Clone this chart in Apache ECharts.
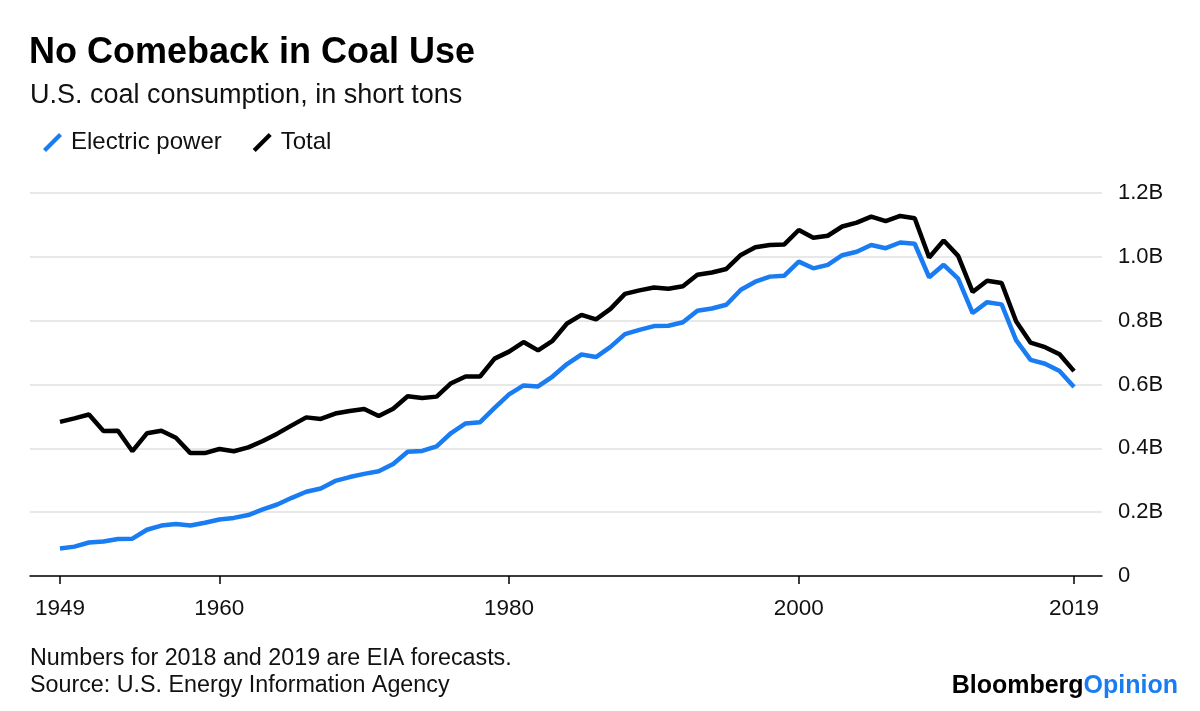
<!DOCTYPE html>
<html>
<head>
<meta charset="utf-8">
<script src="https://cdn.jsdelivr.net/npm/echarts@6/dist/echarts.min.js"></script>
<style>
  html, body { margin: 0; padding: 0; background: #fff; }
  #chart { width: 1200px; height: 711px; }
</style>
</head>
<body>
<div id="chart"></div>
<script>
const FONT = "'Liberation Sans', Arial, sans-serif";
const BLUE = "#1a7cf3";

const firstYear = 1949;
// million short tons (2018 and 2019 are forecasts)
const electricPower = [
  86, 92, 105, 108, 116, 117, 145, 158, 163, 158,
  167, 177, 182, 191, 209, 224, 245, 264, 274, 298,
  310, 320, 328, 351, 389, 392, 406, 448, 478, 482,
  527, 569, 597, 594, 625, 664, 694, 686, 718, 758,
  771, 783, 784, 795, 831, 838, 850, 897, 922, 938,
  941, 985, 964, 975, 1005, 1016, 1037, 1027, 1045, 1041,
  936, 975, 932, 824, 858, 851, 739, 677, 665, 642,
  592
];
const total = [
  483, 494, 506, 454, 455, 391, 447, 455, 433, 385,
  385, 398, 391, 403, 423, 446, 472, 497, 492, 509,
  517, 523, 501, 524, 563, 558, 562, 604, 625, 625,
  681, 703, 733, 707, 737, 791, 818, 804, 837, 884,
  895, 904, 900, 908, 944, 951, 962, 1006, 1030, 1037,
  1039, 1084, 1060, 1066, 1095, 1107, 1126, 1112, 1128, 1121,
  998, 1051, 1003, 890, 925, 918, 798, 731, 717, 695,
  642
];
const xTickYears = [1949, 1960, 1980, 2000, 2019];
const yTickLabels = ["0", "0.2B", "0.4B", "0.6B", "0.8B", "1.0B", "1.2B"];

function toPoints(values) {
  return values.map((v, i) => [firstYear + i, v / 1000]);
}

const slashIcon = "path://M0,16 L16,0 L19,3 L3,19 Z";

const chart = echarts.init(document.getElementById("chart"), null, { renderer: "canvas" });
chart.setOption({
  backgroundColor: "#ffffff",
  animation: false,
  title: [
    {
      text: "No Comeback in Coal Use",
      left: 29, top: 35, padding: 0,
      textStyle: { fontFamily: FONT, fontSize: 36, fontWeight: "bold", color: "#000" }
    },
    {
      text: "U.S. coal consumption, in short tons",
      left: 30, top: 82, padding: 0,
      textStyle: { fontFamily: FONT, fontSize: 27, fontWeight: "normal", color: "#111" }
    },
    {
      text: "Numbers for 2018 and 2019 are EIA forecasts.\nSource: U.S. Energy Information Agency",
      left: 30, top: 645, padding: 0,
      textStyle: { fontFamily: FONT, fontSize: 23.3, fontWeight: "normal", color: "#111", lineHeight: 27 }
    }
  ],
  graphic: [
    {
      type: "text",
      right: 22, top: 674,
      style: {
        text: "{b|Bloomberg}{o|Opinion}",
        rich: {
          b: { fontFamily: FONT, fontSize: 25, fontWeight: "bold", fill: "#000" },
          o: { fontFamily: FONT, fontSize: 25, fontWeight: "bold", fill: BLUE }
        }
      }
    }
  ],
  legend: {
    left: 38, top: 125.5, padding: 5,
    itemWidth: 19, itemHeight: 19,
    itemGap: 31,
    textStyle: { fontFamily: FONT, fontSize: 24, color: "#111", padding: [0, 0, 0, 4] },
    data: [
      { name: "Electric power", icon: slashIcon, itemStyle: { color: BLUE } },
      { name: "Total", icon: slashIcon, itemStyle: { color: "#000" } }
    ]
  },
  grid: { left: 30, right: 98, top: 193, bottom: 135, containLabel: false },
  xAxis: {
    type: "value",
    min: 1946.93,
    max: 2020.93,
    splitLine: { show: false },
    axisLine: { show: true, lineStyle: { color: "#000", width: 1.5 } },
    axisTick: { show: true, length: 8, lineStyle: { color: "#000", width: 1.5 }, customValues: xTickYears },
    axisLabel: {
      customValues: xTickYears,
      margin: 21,
      fontFamily: FONT, fontSize: 22.5, color: "#111",
      formatter: (v) => String(v)
    }
  },
  yAxis: {
    type: "value",
    position: "right",
    min: 0, max: 1.2, interval: 0.2,
    axisLine: { show: false },
    axisTick: { show: false },
    splitLine: { show: true, lineStyle: { color: "#e8e8e8", width: 2 } },
    axisLabel: {
      margin: 16,
      fontFamily: FONT, fontSize: 22, color: "#111",
      formatter: (v) => yTickLabels[Math.round(v / 0.2)]
    }
  },
  series: [
    {
      name: "Electric power",
      type: "line",
      data: toPoints(electricPower),
      showSymbol: false,
      lineStyle: { width: 4.5, color: BLUE },
      itemStyle: { color: BLUE },
      z: 3
    },
    {
      name: "Total",
      type: "line",
      data: toPoints(total),
      showSymbol: false,
      lineStyle: { width: 4.5, color: "#000" },
      itemStyle: { color: "#000" },
      z: 4
    }
  ]
});
</script>
</body>
</html>
